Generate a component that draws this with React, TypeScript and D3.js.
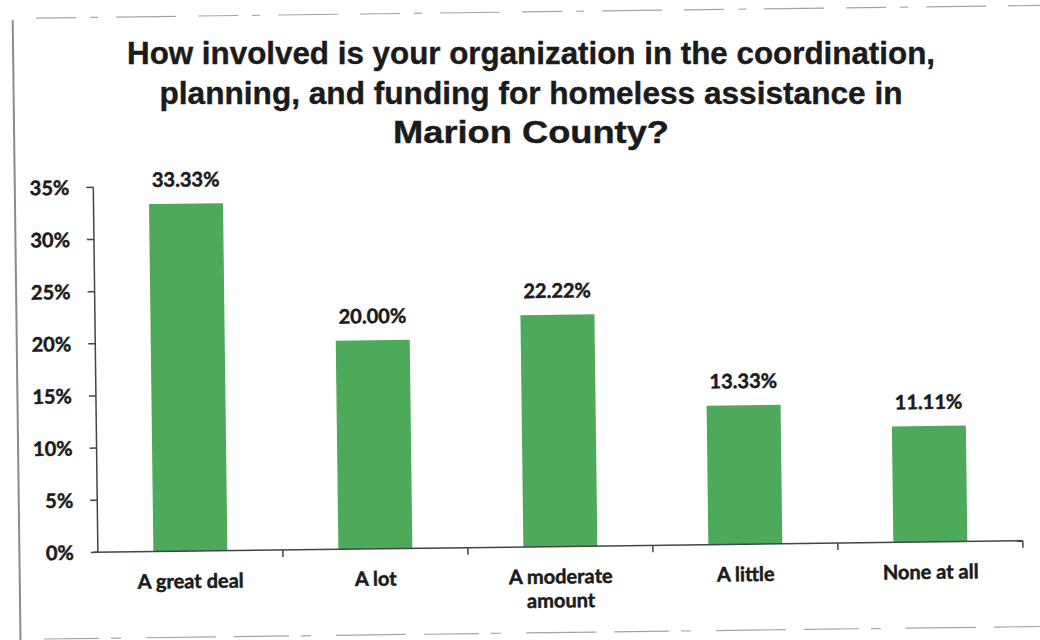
import React from "react";
import * as d3 from "d3";

const categories: string[][] = [["A great deal"], ["A lot"], ["A moderate", "amount"], ["A little"], ["None at all"]];
const values: number[] = [33.33, 20.0, 22.22, 13.33, 11.11];
const yTicks: number[] = [0, 5, 10, 15, 20, 25, 30, 35];
const titleLines: string[] = [
  "How involved is your organization in the coordination,",
  "planning, and funding for homeless assistance in",
  "Marion County?",
];
const titleWidths: number[] = [808, 743, 276];

const W = 1040;
const H = 640;
const X0 = 95;
const X1 = 1020;
const Y0 = 547;
const Y1 = 182;
const BAR = "#4daa5b";
const INK = "#1b1b1b";
const LABEL_FONT = "Lato, 'Open Sans', sans-serif";

export default function App() {
  const keys = categories.map((c) => c.join(" "));
  const x = d3.scaleBand<string>().domain(keys).range([X0, X1]).paddingInner(0.6).paddingOuter(0.3);
  const y = d3.scaleLinear().domain([0, 35]).range([Y0, Y1]);
  const step = x.step();
  const boundaries = d3.range(1, keys.length + 1).map((i) => X0 + i * step);
  const labelStyle = {
    fontFamily: LABEL_FONT,
    fontWeight: 700,
    fontSize: 20,
    fill: INK,
    stroke: INK,
    strokeWidth: 0.5,
  } as const;

  return (
    <svg width={W} height={H} style={{ position: "absolute", left: 0, top: 0, background: "#fff" }}>
      <rect x={0} y={0} width={W} height={H} fill="#fff" />

      {/* title */}
      {titleLines.map((t, i) => (
        <text
          key={i}
          x={531}
          y={64 + i * 39.5}
          textAnchor="middle"
          textLength={titleWidths[i]}
          lengthAdjust="spacingAndGlyphs"
          fontFamily="'Liberation Sans', Arial, sans-serif"
          fontWeight="bold"
          fontSize={31}
          fill={INK}
          stroke={INK}
          strokeWidth={0.4}
        >
          {t}
        </text>
      ))}

      <g transform="rotate(-0.72 520 320)">
        {/* scanned page frame */}
        <line x1={16.5} y1={14} x2={16.5} y2={640} stroke="#8a8a8a" strokeWidth={2} />
        <line x1={40} y1={12} x2={1060} y2={12} stroke="#a5a5a5" strokeWidth={1.2} strokeDasharray="40 14 8 18 60 22" />
        <line x1={40} y1={633} x2={1060} y2={633} stroke="#a5a5a5" strokeWidth={1.2} strokeDasharray="55 12 10 25 70 18" />

        {/* bars */}
        {values.map((v, i) => (
          <rect key={i} x={x(keys[i])!} y={y(v)} width={x.bandwidth()} height={Y0 - y(v)} fill={BAR} />
        ))}

        {/* value labels */}
        {values.map((v, i) => (
          <text key={i} x={x(keys[i])! + x.bandwidth() / 2} y={y(v) - 17} textAnchor="middle" {...labelStyle}>
            {v.toFixed(2) + "%"}
          </text>
        ))}

        {/* y axis */}
        <line x1={X0} y1={y(35)} x2={X0} y2={Y0} stroke="#444" strokeWidth={1.5} />
        {yTicks.map((t) => (
          <g key={t}>
            <line x1={X0 - 7} y1={y(t)} x2={X0} y2={y(t)} stroke="#444" strokeWidth={1.5} />
            <text x={X0 - 24} y={y(t)} dy="0.36em" textAnchor="end" {...labelStyle}>
              {t + "%"}
            </text>
          </g>
        ))}

        {/* x axis */}
        <line x1={X0 - 4} y1={Y0} x2={X1} y2={Y0} stroke="#444" strokeWidth={1.5} />
        {boundaries.map((b, i) => (
          <line key={i} x1={b} y1={Y0} x2={b} y2={Y0 + 7} stroke="#444" strokeWidth={1.5} />
        ))}
        {categories.map((lines, i) => (
          <text key={i} x={x(keys[i])! + x.bandwidth() / 2} y={584} textAnchor="middle" {...labelStyle}>
            {lines.map((l, j) => (
              <tspan key={j} x={x(keys[i])! + x.bandwidth() / 2} dy={j === 0 ? 0 : 24}>
                {l}
              </tspan>
            ))}
          </text>
        ))}
      </g>
    </svg>
  );
}
